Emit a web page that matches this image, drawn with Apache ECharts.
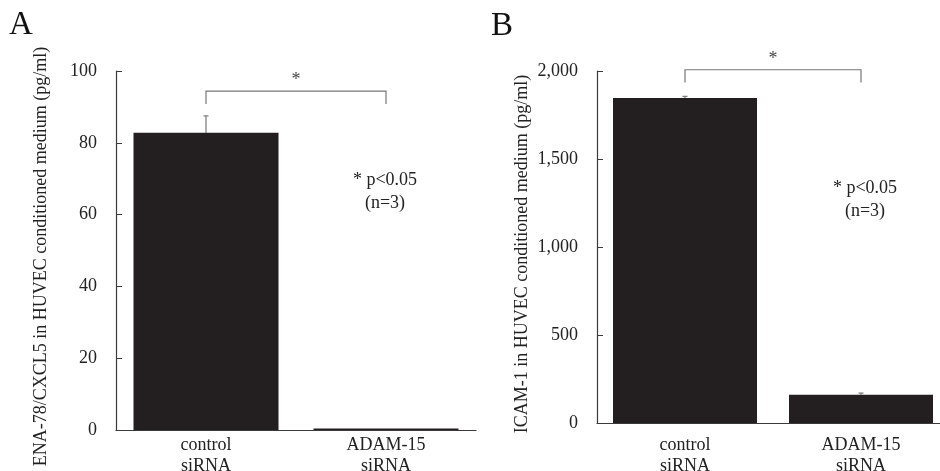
<!DOCTYPE html>
<html>
<head>
<meta charset="utf-8">
<script src="https://cdn.jsdelivr.net/npm/echarts@6/dist/echarts.min.js"></script>
<style>
  html, body { margin: 0; padding: 0; background: #fff; }
  #chart { width: 940px; height: 471px; }
</style>
</head>
<body>
<div id="chart"></div>
<script>
  // data
  var categories = ['control\nsiRNA', 'ADAM-15\nsiRNA'];

  var ticksA = [0, 20, 40, 60, 80, 100];
  var meanA = [82.8, 0.4];
  var errA = [4.7, 0];

  var ticksB = [0, 500, 1000, 1500, 2000];
  var meanB = [1846, 161];
  var errB = [10, 9];

  // bracket: [from cat, to cat, level, drop level]
  var bracketA = [[0, 1, 94.4, 90.8]];
  var bracketB = [[0, 1, 2007, 1934]];

  var serif = 'Liberation Serif';
  var barColor = '#231f20';
  var axisColor = '#3a3a3a';
  var lineGray = '#777777';

	function withCommas(v) {
		return String(v).replace(/\B(?=(\d{3})+(?!\d))/g, ',');
	}

	function errorData(mean, err) {
		return mean.map(function (m, i) {
			return [i, m, m + err[i]];
		});
	}

	function renderError(params, api) {
		if (api.value(2) <= api.value(1)) return;
		var base = api.coord([api.value(0), api.value(1)]);
		var top = api.coord([api.value(0), api.value(2)]);
		return {
			type: 'group',
			children: [{
				type: 'line',
				shape: { x1: base[0], y1: base[1], x2: top[0], y2: top[1] },
				style: { stroke: lineGray, lineWidth: 1.2 }
			}, {
				type: 'line',
				shape: { x1: top[0] - 2.5, y1: top[1], x2: top[0] + 2.5, y2: top[1] },
				style: { stroke: lineGray, lineWidth: 1.2 }
			}]
		};
	}

	function renderBracket(params, api) {
		var a = api.coord([api.value(0), api.value(2)]);
		var b = api.coord([api.value(1), api.value(2)]);
		var drop = api.coord([api.value(0), api.value(3)]);
		return {
			type: 'group',
			children: [{
				type: 'polyline',
				shape: { points: [[a[0], drop[1]], [a[0], a[1]], [b[0], b[1]], [b[0], drop[1]]] },
				style: { stroke: lineGray, lineWidth: 1.2, fill: null }
			}, {
				type: 'text',
				x: (a[0] + b[0]) / 2,
				y: a[1] - 2,
				style: {
					text: '*', fill: '#444', font: '18px "' + serif + '"',
					align: 'center', verticalAlign: 'bottom'
				}
			}]
		};
	}

	function xAxisFor(gridIndex, margin) {
		return {
			type: 'category',
			gridIndex: gridIndex,
			data: categories,
			axisLine: { lineStyle: { color: axisColor, width: 1.2 } },
			axisTick: { show: false },
			axisLabel: {
				color: '#222', fontFamily: serif, fontSize: 18,
				lineHeight: 21, margin: margin
			}
		};
	}

	function yAxisFor(gridIndex, ticks, name, nameSize, gap, shift, fmt) {
		return {
			type: 'value',
			gridIndex: gridIndex,
			min: ticks[0],
			max: ticks[ticks.length - 1],
			interval: ticks[1] - ticks[0],
			name: name,
			nameLocation: 'middle',
			nameRotate: 90,
			nameGap: gap,
			nameTextStyle: {
				color: '#222', fontFamily: serif, fontSize: nameSize,
				padding: [0, shift, 0, 0]
			},
			axisLine: { show: true, lineStyle: { color: axisColor, width: 1.2 } },
			axisTick: { show: true, inside: true, length: 6, lineStyle: { color: axisColor } },
			splitLine: { show: false },
			axisLabel: {
				color: '#222', fontFamily: serif, fontSize: 18, margin: 19,
				formatter: fmt
			}
		};
	}

	var chart = echarts.init(document.getElementById('chart'));

	chart.setOption({
		animation: false,
		backgroundColor: '#fff',
		grid: [
			{ left: 116, top: 71, width: 360, bottom: 41, outerBoundsMode: 'none' },
			{ left: 597, top: 71, width: 352, bottom: 48, outerBoundsMode: 'none' }
		],
		xAxis: [xAxisFor(0, 5), xAxisFor(1, 12)],
		yAxis: [
			yAxisFor(0, ticksA, 'ENA-78/CXCL5 in HUVEC conditioned medium (pg/ml)', 18, 66, 12),
			yAxisFor(1, ticksB, 'ICAM-1 in HUVEC conditioned medium (pg/ml)', 18, 66, 14, withCommas)
		],
		graphic: [
			{ type: 'text', left: 9, top: 9, style: { text: 'A', fill: '#111', font: '33px "' + serif + '"' } },
			{ type: 'text', left: 491, top: 10, style: { text: 'B', fill: '#111', font: '33px "' + serif + '"' } },
			{ type: 'text', x: 385, y: 192, style: {
				text: '* p<0.05\n(n=3)', fill: '#222', font: '18px "' + serif + '"',
				align: 'center', verticalAlign: 'middle', lineHeight: 23 } },
			{ type: 'text', x: 865, y: 200, style: {
				text: '* p<0.05\n(n=3)', fill: '#222', font: '18px "' + serif + '"',
				align: 'center', verticalAlign: 'middle', lineHeight: 23 } }
		],
		series: [{
			type: 'bar',
			xAxisIndex: 0, yAxisIndex: 0,
			data: meanA,
			barWidth: 145,
			itemStyle: { color: barColor }
		}, {
			type: 'custom',
			xAxisIndex: 0, yAxisIndex: 0,
			data: errorData(meanA, errA),
			renderItem: renderError,
			z: 1
		}, {
			type: 'custom',
			xAxisIndex: 0, yAxisIndex: 0,
			data: bracketA,
			renderItem: renderBracket
		}, {
			type: 'bar',
			xAxisIndex: 1, yAxisIndex: 1,
			data: meanB,
			barWidth: 144,
			itemStyle: { color: barColor }
		}, {
			type: 'custom',
			xAxisIndex: 1, yAxisIndex: 1,
			data: errorData(meanB, errB),
			renderItem: renderError,
			z: 1
		}, {
			type: 'custom',
			xAxisIndex: 1, yAxisIndex: 1,
			data: bracketB,
			renderItem: renderBracket,
			clip: false
		}]
	});
</script>
</body>
</html>
